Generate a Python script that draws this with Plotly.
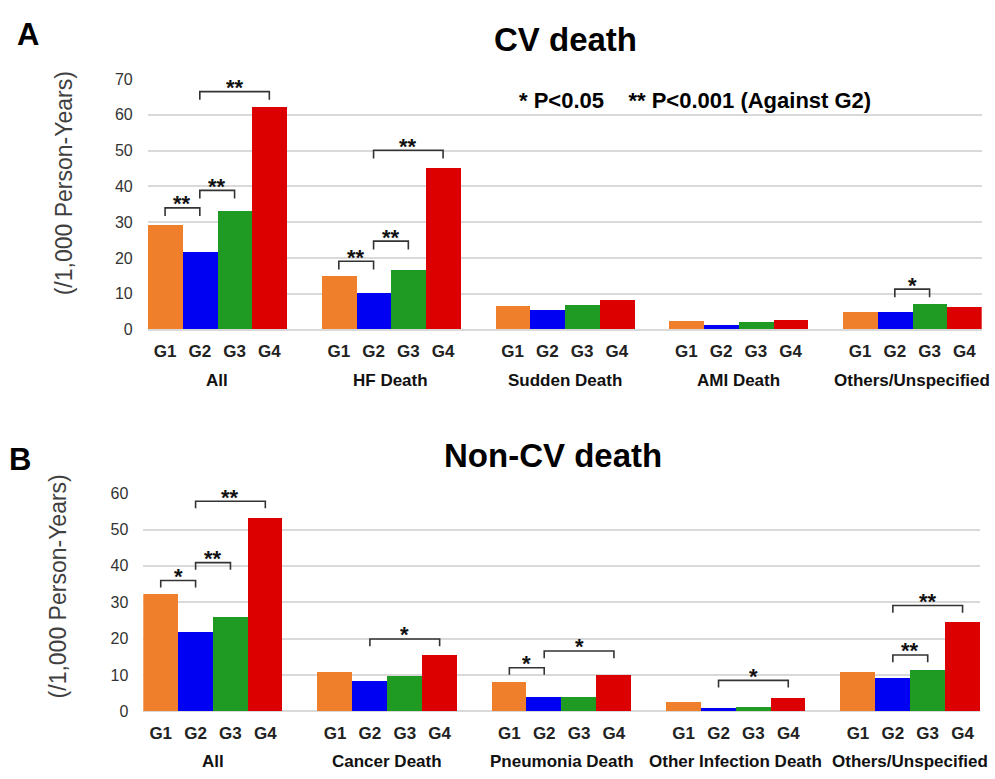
import plotly.graph_objects as go

groups = ['G1', 'G2', 'G3', 'G4']
colors = ['#F07F2C', '#0000F2', '#1F9B24', '#DC0000']

cv_categories = ['All', 'HF Death', 'Sudden Death', 'AMI Death', 'Others/Unspecified']
cv_g1 = [29.3, 15.0, 6.5, 2.4, 4.8]
cv_g2 = [21.6, 10.2, 5.3, 1.2, 4.8]
cv_g3 = [33.2, 16.6, 6.8, 2.0, 7.2]
cv_g4 = [62.1, 45.1, 8.1, 2.6, 6.4]

ncv_categories = ['All', 'Cancer Death', 'Pneumonia Death', 'Other Infection Death', 'Others/Unspecified']
ncv_g1 = [32.2, 10.9, 8.0, 2.5, 10.9]
ncv_g2 = [21.9, 8.4, 3.9, 0.9, 9.0]
ncv_g3 = [26.0, 9.7, 4.0, 1.1, 11.4]
ncv_g4 = [53.2, 15.4, 10.0, 3.6, 24.4]

# significance brackets: (category index, from group, to group, label, bracket level)
cv_brackets = [
    (0, 0, 1, '**', 34.0), (0, 1, 2, '**', 38.9), (0, 1, 3, '**', 66.5),
    (1, 0, 1, '**', 19.1), (1, 1, 2, '**', 24.7), (1, 1, 3, '**', 50.1),
    (4, 1, 2, '*', 11.3),
]
ncv_brackets = [
    (0, 0, 1, '*', 36.0), (0, 1, 2, '**', 40.9), (0, 1, 3, '**', 57.8),
    (1, 1, 3, '*', 19.9),
    (2, 0, 1, '*', 12.0), (2, 1, 3, '*', 16.6),
    (3, 1, 3, '*', 8.5),
    (4, 1, 2, '**', 15.5), (4, 1, 3, '**', 29.1),
]

FONT = 'Arial, Liberation Sans, sans-serif'
W, H = 995, 779
STEP = 5  # 4 bars + 1 gap per category


def px_y(p):
    return 1 - p / H


def add_panel(fig, n, categories, series, brackets, ymax, xdom, ydom, leg):
    xa = 'x' if n == 1 else 'x%d' % n
    ya = 'y' if n == 1 else 'y%d' % n
    for j, g in enumerate(groups):
        fig.add_trace(go.Bar(
            x=[i * STEP + j for i in range(len(categories))],
            y=series[j], name=g, width=1, marker_color=colors[j],
            marker_line_width=0, showlegend=False, xaxis=xa, yaxis=ya))

    tickvals, ticktext = [], []
    for i in range(len(categories)):
        for j, g in enumerate(groups):
            tickvals.append(i * STEP + j)
            ticktext.append('<b>%s</b>' % g)

    axis_key = 'xaxis' if n == 1 else 'xaxis%d' % n
    yaxis_key = 'yaxis' if n == 1 else 'yaxis%d' % n
    fig.update_layout(**{
        axis_key: dict(domain=xdom, range=[-0.5, (len(categories) - 1) * STEP + 3.5],
                       tickvals=tickvals, ticktext=ticktext, showgrid=False,
                       zeroline=False, showline=False, anchor=ya,
                       tickfont=dict(size=17, color='#222', family=FONT),
                       ticks='outside', ticklen=6, tickcolor='rgba(0,0,0,0)'),
        yaxis_key: dict(domain=ydom, range=[0, ymax], dtick=10, anchor=xa,
                        showgrid=True, gridcolor='#D9D9D9', gridwidth=1.5,
                        zeroline=True, zerolinecolor='#D9D9D9', zerolinewidth=1.5,
                        showline=False, ticklabelstandoff=14,
                        tickfont=dict(size=16, color='#333', family=FONT)),
    })

    # category labels under the G ticks
    for i, c in enumerate(categories):
        fig.add_annotation(x=i * STEP + 1.5, xref=xa, y=px_y(leg), yref='paper',
                           text='<b>%s</b>' % c, showarrow=False,
                           font=dict(size=17, color='#111', family=FONT),
                           xanchor='center', yanchor='middle')

    leg_len = 2.3 * ymax / 70
    for (ci, a, b, lab, lvl) in brackets:
        x1 = ci * STEP + a
        x2 = ci * STEP + b
        fig.add_shape(type='path', xref=xa, yref=ya,
                      path='M %s,%s L %s,%s L %s,%s L %s,%s' % (
                          x1, lvl - leg_len, x1, lvl, x2, lvl, x2, lvl - leg_len),
                      line=dict(color='#333', width=1.6))
        fig.add_annotation(x=(x1 + x2) / 2, xref=xa, y=lvl, yref=ya, text='<b>%s</b>' % lab,
                           showarrow=False, font=dict(size=22, color='#111', family=FONT),
                           xanchor='center', yanchor='middle', yshift=4)


fig = go.Figure()
add_panel(fig, 1, cv_categories, [cv_g1, cv_g2, cv_g3, cv_g4], cv_brackets, 70,
          [147.7 / W, 981.7 / W], [px_y(328.7), px_y(72.7)], 381)
add_panel(fig, 2, ncv_categories, [ncv_g1, ncv_g2, ncv_g3, ncv_g4], ncv_brackets, 60,
          [143.3 / W, 980 / W], [px_y(719), px_y(496)], 770)

texts = [
    ('<b>A</b>', 27.7, 26.7, 31),
    ('<b>B</b>', 20, 461.7, 31),
    ('<b>CV death</b>', 565, 31.7, 33),
    ('<b>Non-CV death</b>', 553, 457, 33),
    ('<b>* P&lt;0.05&nbsp;&nbsp;&nbsp;&nbsp;** P&lt;0.001 (Against G2)</b>', 695, 94.5, 22),
]
for t, x, y, s in texts:
    fig.add_annotation(x=x / W, y=px_y(y), xref='paper', yref='paper', text=t,
                       showarrow=False, xanchor='center', yanchor='middle',
                       font=dict(size=s, color='#000', family=FONT))

for x, y in [(64, 179.2), (58.3, 591)]:
    fig.add_annotation(x=x / W, y=px_y(y), xref='paper', yref='paper',
                       text='(/1,000 Person-Years)', textangle=-90, showarrow=False,
                       xanchor='center', yanchor='middle',
                       font=dict(size=23, color='#404040', family=FONT))

fig.update_layout(width=W, height=H, margin=dict(l=0, r=0, t=0, b=0),
                  plot_bgcolor='white', paper_bgcolor='white', bargap=0)

fig.write_html("out.html", config={'displayModeBar': False},
               post_script="document.body.style.margin='0';document.body.style.overflow='hidden';")
